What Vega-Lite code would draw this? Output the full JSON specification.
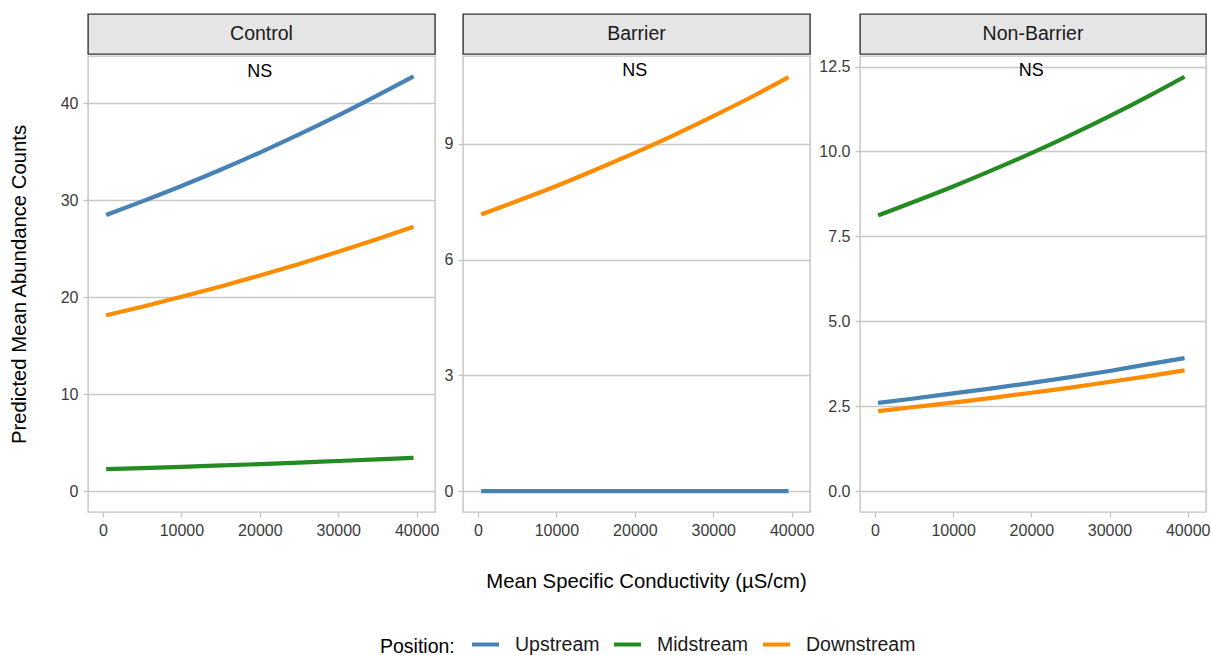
{
  "$schema": "https://vega.github.io/schema/vega-lite/v6.json",
  "background": "white",
  "padding": {"top": 13, "left": 8, "right": 0, "bottom": 0},
  "datasets": {
    "curves": [
      {"panel": "Control", "position": "Upstream", "cond": 400, "abund": 28.5},
      {"panel": "Control", "position": "Upstream", "cond": 5000, "abund": 29.9},
      {"panel": "Control", "position": "Upstream", "cond": 10000, "abund": 31.49},
      {"panel": "Control", "position": "Upstream", "cond": 15000, "abund": 33.17},
      {"panel": "Control", "position": "Upstream", "cond": 20000, "abund": 34.94},
      {"panel": "Control", "position": "Upstream", "cond": 25000, "abund": 36.81},
      {"panel": "Control", "position": "Upstream", "cond": 30000, "abund": 38.77},
      {"panel": "Control", "position": "Upstream", "cond": 35000, "abund": 40.84},
      {"panel": "Control", "position": "Upstream", "cond": 39600, "abund": 42.8},
      {"panel": "Control", "position": "Midstream", "cond": 400, "abund": 2.28},
      {"panel": "Control", "position": "Midstream", "cond": 5000, "abund": 2.39},
      {"panel": "Control", "position": "Midstream", "cond": 10000, "abund": 2.52},
      {"panel": "Control", "position": "Midstream", "cond": 15000, "abund": 2.66},
      {"panel": "Control", "position": "Midstream", "cond": 20000, "abund": 2.8},
      {"panel": "Control", "position": "Midstream", "cond": 25000, "abund": 2.96},
      {"panel": "Control", "position": "Midstream", "cond": 30000, "abund": 3.12},
      {"panel": "Control", "position": "Midstream", "cond": 35000, "abund": 3.29},
      {"panel": "Control", "position": "Midstream", "cond": 39600, "abund": 3.45},
      {"panel": "Control", "position": "Downstream", "cond": 400, "abund": 18.15},
      {"panel": "Control", "position": "Downstream", "cond": 5000, "abund": 19.04},
      {"panel": "Control", "position": "Downstream", "cond": 10000, "abund": 20.06},
      {"panel": "Control", "position": "Downstream", "cond": 15000, "abund": 21.13},
      {"panel": "Control", "position": "Downstream", "cond": 20000, "abund": 22.26},
      {"panel": "Control", "position": "Downstream", "cond": 25000, "abund": 23.45},
      {"panel": "Control", "position": "Downstream", "cond": 30000, "abund": 24.71},
      {"panel": "Control", "position": "Downstream", "cond": 35000, "abund": 26.03},
      {"panel": "Control", "position": "Downstream", "cond": 39600, "abund": 27.28},
      {"panel": "Barrier", "position": "Upstream", "cond": 400, "abund": 0},
      {"panel": "Barrier", "position": "Upstream", "cond": 10000, "abund": 0},
      {"panel": "Barrier", "position": "Upstream", "cond": 20000, "abund": 0},
      {"panel": "Barrier", "position": "Upstream", "cond": 30000, "abund": 0},
      {"panel": "Barrier", "position": "Upstream", "cond": 39600, "abund": 0},
      {"panel": "Barrier", "position": "Downstream", "cond": 400, "abund": 7.17},
      {"panel": "Barrier", "position": "Downstream", "cond": 5000, "abund": 7.52},
      {"panel": "Barrier", "position": "Downstream", "cond": 10000, "abund": 7.91},
      {"panel": "Barrier", "position": "Downstream", "cond": 15000, "abund": 8.33},
      {"panel": "Barrier", "position": "Downstream", "cond": 20000, "abund": 8.77},
      {"panel": "Barrier", "position": "Downstream", "cond": 25000, "abund": 9.23},
      {"panel": "Barrier", "position": "Downstream", "cond": 30000, "abund": 9.72},
      {"panel": "Barrier", "position": "Downstream", "cond": 35000, "abund": 10.23},
      {"panel": "Barrier", "position": "Downstream", "cond": 39600, "abund": 10.73},
      {"panel": "Non-Barrier", "position": "Upstream", "cond": 400, "abund": 2.6},
      {"panel": "Non-Barrier", "position": "Upstream", "cond": 5000, "abund": 2.73},
      {"panel": "Non-Barrier", "position": "Upstream", "cond": 10000, "abund": 2.88},
      {"panel": "Non-Barrier", "position": "Upstream", "cond": 15000, "abund": 3.03},
      {"panel": "Non-Barrier", "position": "Upstream", "cond": 20000, "abund": 3.19},
      {"panel": "Non-Barrier", "position": "Upstream", "cond": 25000, "abund": 3.36},
      {"panel": "Non-Barrier", "position": "Upstream", "cond": 30000, "abund": 3.54},
      {"panel": "Non-Barrier", "position": "Upstream", "cond": 35000, "abund": 3.74},
      {"panel": "Non-Barrier", "position": "Upstream", "cond": 39600, "abund": 3.92},
      {"panel": "Non-Barrier", "position": "Midstream", "cond": 400, "abund": 8.12},
      {"panel": "Non-Barrier", "position": "Midstream", "cond": 5000, "abund": 8.52},
      {"panel": "Non-Barrier", "position": "Midstream", "cond": 10000, "abund": 8.97},
      {"panel": "Non-Barrier", "position": "Midstream", "cond": 15000, "abund": 9.45},
      {"panel": "Non-Barrier", "position": "Midstream", "cond": 20000, "abund": 9.95},
      {"panel": "Non-Barrier", "position": "Midstream", "cond": 25000, "abund": 10.48},
      {"panel": "Non-Barrier", "position": "Midstream", "cond": 30000, "abund": 11.04},
      {"panel": "Non-Barrier", "position": "Midstream", "cond": 35000, "abund": 11.63},
      {"panel": "Non-Barrier", "position": "Midstream", "cond": 39600, "abund": 12.2},
      {"panel": "Non-Barrier", "position": "Downstream", "cond": 400, "abund": 2.36},
      {"panel": "Non-Barrier", "position": "Downstream", "cond": 5000, "abund": 2.48},
      {"panel": "Non-Barrier", "position": "Downstream", "cond": 10000, "abund": 2.61},
      {"panel": "Non-Barrier", "position": "Downstream", "cond": 15000, "abund": 2.75},
      {"panel": "Non-Barrier", "position": "Downstream", "cond": 20000, "abund": 2.9},
      {"panel": "Non-Barrier", "position": "Downstream", "cond": 25000, "abund": 3.05},
      {"panel": "Non-Barrier", "position": "Downstream", "cond": 30000, "abund": 3.22},
      {"panel": "Non-Barrier", "position": "Downstream", "cond": 35000, "abund": 3.39},
      {"panel": "Non-Barrier", "position": "Downstream", "cond": 39600, "abund": 3.56}
    ],
    "notes": [
      {"panel": "Control", "label": "NS", "cond": 20000, "abund": 43.3},
      {"panel": "Barrier", "label": "NS", "cond": 20000, "abund": 10.88},
      {"panel": "Non-Barrier", "label": "NS", "cond": 20000, "abund": 12.36}
    ]
  },
  "config": {
    "font": "Liberation Sans",
    "view": {"stroke": "#c4c4c4", "strokeWidth": 1.4},
    "axis": {
      "domain": false,
      "labelFont": "Liberation Sans",
      "labelFontSize": 16,
      "labelColor": "#3a3a3a",
      "labelPadding": 5,
      "tickColor": "#c4c4c4",
      "tickSize": 5,
      "tickWidth": 1.3,
      "gridColor": "#c8c8c8",
      "gridWidth": 1.3,
      "titleFont": "Liberation Sans",
      "titleFontSize": 20.3,
      "titleFontWeight": "normal",
      "titleColor": "#000000"
    },
    "legend": {
      "labelFont": "Liberation Sans",
      "labelFontSize": 19.5,
      "labelColor": "#1a1a1a",
      "titleFont": "Liberation Sans",
      "titleFontSize": 19.5,
      "titleFontWeight": "normal",
      "titleColor": "#000000",
      "titleBaseline": "line-top",
      "titleLineHeight": 11
    }
  },
  "columns": 3,
  "spacing": {"row": 0, "column": 3},
  "concat": [
    {
      "width": 347, "height": 40,
      "data": {"values": [{"panel": "Control"}]},
      "view": {"fill": "#e5e5e5", "stroke": "#333333", "strokeWidth": 1.4},
      "mark": {"type": "text", "fontSize": 19.5, "color": "#1a1a1a"},
      "encoding": {
        "text": {"field": "panel"},
        "x": {"datum": 0.5, "type": "quantitative", "scale": {"domain": [0, 1]}, "axis": null},
        "y": {"datum": 0.5, "type": "quantitative", "scale": {"domain": [0, 1]}, "axis": null}
      }
    },
    {
      "width": 347, "height": 40,
      "data": {"values": [{"panel": "Barrier"}]},
      "view": {"fill": "#e5e5e5", "stroke": "#333333", "strokeWidth": 1.4},
      "mark": {"type": "text", "fontSize": 19.5, "color": "#1a1a1a"},
      "encoding": {
        "text": {"field": "panel"},
        "x": {"datum": 0.5, "type": "quantitative", "scale": {"domain": [0, 1]}, "axis": null},
        "y": {"datum": 0.5, "type": "quantitative", "scale": {"domain": [0, 1]}, "axis": null}
      }
    },
    {
      "width": 346, "height": 40,
      "data": {"values": [{"panel": "Non-Barrier"}]},
      "view": {"fill": "#e5e5e5", "stroke": "#333333", "strokeWidth": 1.4},
      "mark": {"type": "text", "fontSize": 19.5, "color": "#1a1a1a"},
      "encoding": {
        "text": {"field": "panel"},
        "x": {"datum": 0.5, "type": "quantitative", "scale": {"domain": [0, 1]}, "axis": null},
        "y": {"datum": 0.5, "type": "quantitative", "scale": {"domain": [0, 1]}, "axis": null}
      }
    },
    {
      "width": 347, "height": 456,
      "encoding": {
        "x": {"field": "cond", "type": "quantitative", "scale": {"domain": [-1915, 42340], "nice": false, "zero": false},
              "axis": {"values": [0, 10000, 20000, 30000, 40000], "format": "d", "grid": false, "title": null}},
        "y": {"field": "abund", "type": "quantitative", "scale": {"domain": [-2.14, 44.9], "nice": false, "zero": false},
              "axis": {"values": [0, 10, 20, 30, 40], "grid": true, "title": "Predicted Mean Abundance Counts", "titlePadding": 31}}
      },
      "layer": [
        {
          "data": {"name": "curves"},
          "transform": [{"filter": "datum.panel === 'Control'"}],
          "mark": {"type": "line", "strokeWidth": 4.2, "interpolate": "monotone"},
          "encoding": {
            "color": {"field": "position", "type": "nominal",
                      "scale": {"domain": ["Upstream", "Midstream", "Downstream"], "range": ["#4682b4", "#228b22", "#ff8c00"]},
                      "legend": {"title": "Position:", "orient": "none", "direction": "horizontal", "titleOrient": "left",
                                 "legendX": 292, "legendY": 615, "symbolType": "stroke", "symbolSize": 729,
                                 "symbolStrokeWidth": 4, "columnPadding": 6, "labelOffset": 14, "titlePadding": 15}}
          }
        },
        {
          "data": {"name": "notes"},
          "transform": [{"filter": "datum.panel === 'Control'"}],
          "mark": {"type": "text", "fontSize": 18, "color": "#000000"},
          "encoding": {"text": {"field": "label"}}
        }
      ]
    },
    {
      "width": 347, "height": 456,
      "encoding": {
        "x": {"field": "cond", "type": "quantitative", "scale": {"domain": [-1915, 42340], "nice": false, "zero": false},
              "axis": {"values": [0, 10000, 20000, 30000, 40000], "format": "d", "grid": false,
                       "title": "Mean Specific Conductivity (µS/cm)", "titlePadding": 33, "titleX": 183}},
        "y": {"field": "abund", "type": "quantitative", "scale": {"domain": [-0.54, 11.28], "nice": false, "zero": false},
              "axis": {"values": [0, 3, 6, 9], "grid": true, "title": null}}
      },
      "layer": [
        {
          "data": {"name": "curves"},
          "transform": [{"filter": "datum.panel === 'Barrier'"}],
          "mark": {"type": "line", "strokeWidth": 4.2, "interpolate": "monotone"},
          "encoding": {
            "color": {"field": "position", "type": "nominal",
                      "scale": {"domain": ["Upstream", "Midstream", "Downstream"], "range": ["#4682b4", "#228b22", "#ff8c00"]},
                      "legend": {"title": "Position:", "orient": "none", "direction": "horizontal", "titleOrient": "left",
                                 "legendX": 292, "legendY": 615, "symbolType": "stroke", "symbolSize": 729,
                                 "symbolStrokeWidth": 4, "columnPadding": 6, "labelOffset": 14, "titlePadding": 15}}
          }
        },
        {
          "data": {"name": "notes"},
          "transform": [{"filter": "datum.panel === 'Barrier'"}],
          "mark": {"type": "text", "fontSize": 18, "color": "#000000"},
          "encoding": {"text": {"field": "label"}}
        }
      ]
    },
    {
      "width": 346, "height": 456,
      "encoding": {
        "x": {"field": "cond", "type": "quantitative", "scale": {"domain": [-1915, 42340], "nice": false, "zero": false},
              "axis": {"values": [0, 10000, 20000, 30000, 40000], "format": "d", "grid": false, "title": null}},
        "y": {"field": "abund", "type": "quantitative", "scale": {"domain": [-0.61, 12.81], "nice": false, "zero": false},
              "axis": {"values": [0, 2.5, 5, 7.5, 10, 12.5], "format": ".1f", "grid": true, "title": null}}
      },
      "layer": [
        {
          "data": {"name": "curves"},
          "transform": [{"filter": "datum.panel === 'Non-Barrier'"}],
          "mark": {"type": "line", "strokeWidth": 4.2, "interpolate": "monotone"},
          "encoding": {
            "color": {"field": "position", "type": "nominal",
                      "scale": {"domain": ["Upstream", "Midstream", "Downstream"], "range": ["#4682b4", "#228b22", "#ff8c00"]},
                      "legend": {"title": "Position:", "orient": "none", "direction": "horizontal", "titleOrient": "left",
                                 "legendX": 292, "legendY": 615, "symbolType": "stroke", "symbolSize": 729,
                                 "symbolStrokeWidth": 4, "columnPadding": 6, "labelOffset": 14, "titlePadding": 15}}
          }
        },
        {
          "data": {"name": "notes"},
          "transform": [{"filter": "datum.panel === 'Non-Barrier'"}],
          "mark": {"type": "text", "fontSize": 18, "color": "#000000"},
          "encoding": {"text": {"field": "label"}}
        }
      ]
    }
  ]
}
